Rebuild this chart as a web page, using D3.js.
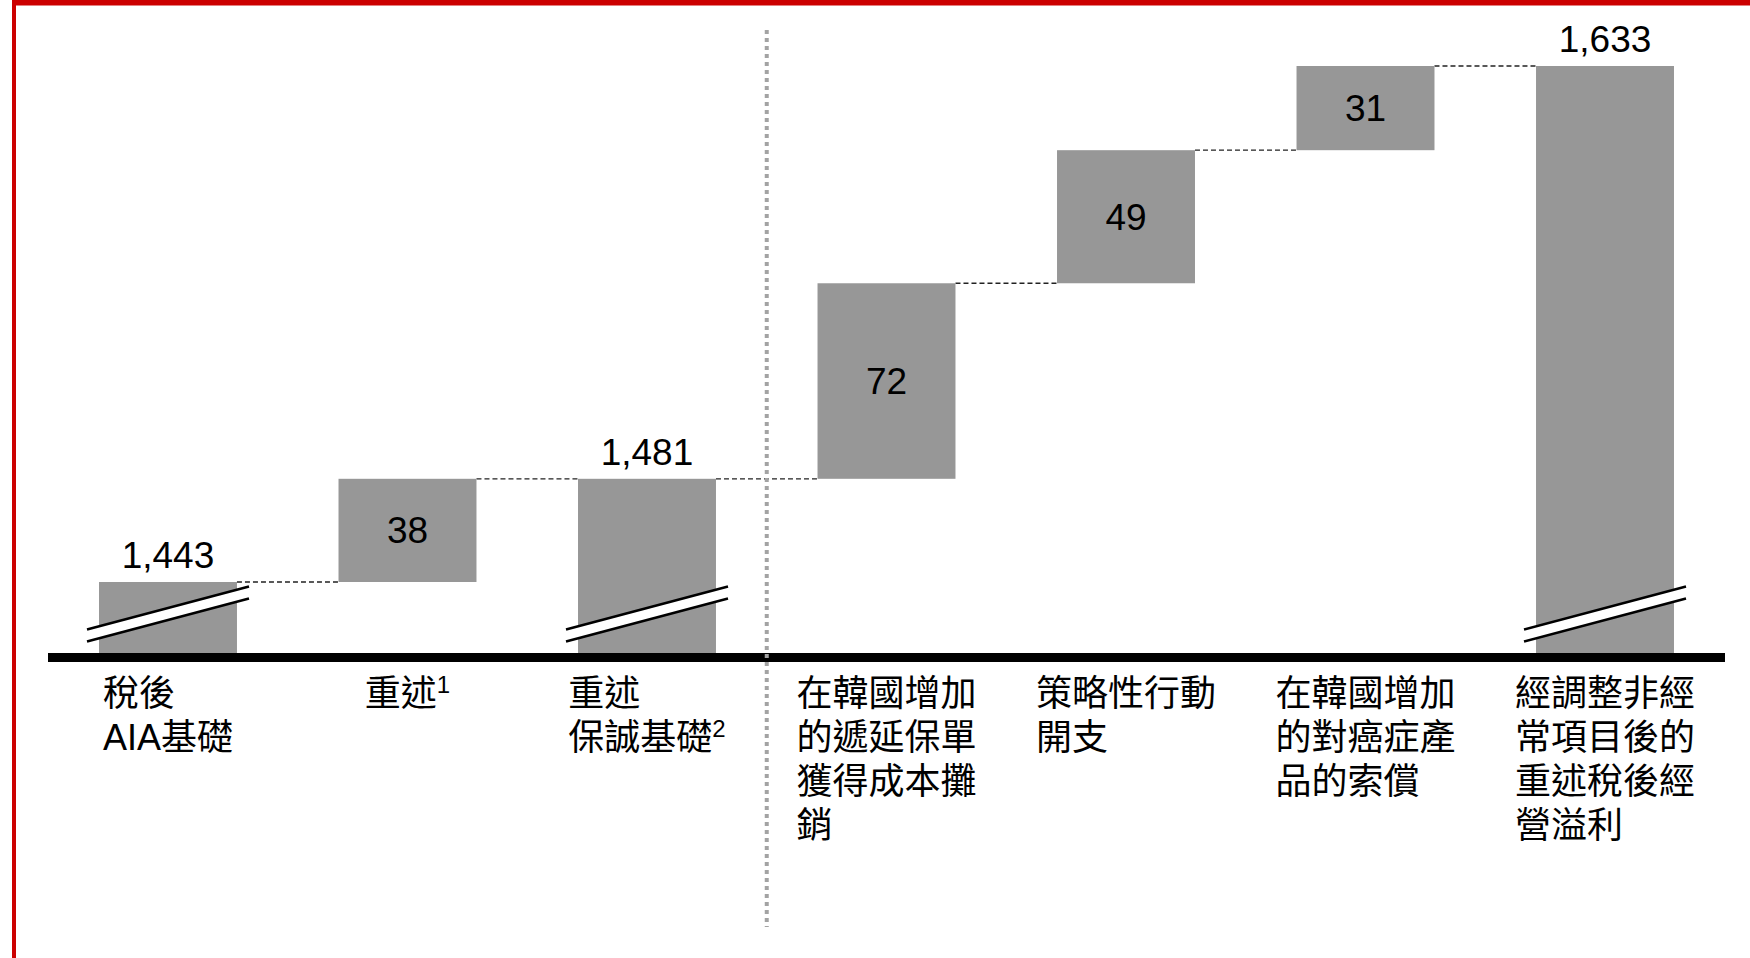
<!DOCTYPE html>
<html>
<head>
<meta charset="utf-8">
<script src="https://cdn.jsdelivr.net/npm/d3@7"></script>
<style>
  html, body { margin: 0; padding: 0; background: #fff; }
  svg { display: block; }
  text { font-family: "Liberation Sans", Arial, "Noto Sans CJK TC", sans-serif; fill: #000; }
</style>
</head>
<body>
<svg id="chart" width="1750" height="958"></svg>
<script>
// Waterfall: after-tax operating profit bridge (US$m)
const categories = ["base", "restate", "restatedBase", "dac", "strategic", "cancer", "final"];
const kinds = ["total", "delta", "total", "delta", "delta", "delta", "total"];
const values = [1443, 38, 1481, 72, 49, 31, 1633];
// Category labels, one entry per line; "^" marks a superscript note
const labelLines = [
  ["稅後", "AIA基礎"],
  ["重述^1"],
  ["重述", "保誠基礎^2"],
  ["在韓國增加", "的遞延保單", "獲得成本攤", "銷"],
  ["策略性行動", "開支"],
  ["在韓國增加", "的對癌症產", "品的索償"],
  ["經調整非經", "常項目後的", "重述稅後經", "營溢利"]
];
const valueLabels = ["1,443", "38", "1,481", "72", "49", "31", "1,633"];

const svg = d3.select("#chart");
const W = 1750, H = 958;
const axisY = 657.5;
const barColor = "#979797";

// Page frame (red top band and left rule)
svg.append("rect").attr("x", 12).attr("y", 0).attr("width", W - 12).attr("height", 5.5).attr("fill", "#cc0000");
svg.append("rect").attr("x", 12).attr("y", 0).attr("width", 4).attr("height", H).attr("fill", "#cc0000");

const x = d3.scaleBand()
  .domain(categories)
  .range([48, 1725])
  .paddingInner(0.424)
  .paddingOuter(0.213);

// Broken value axis: only the top part of the totals is shown
const y = d3.scaleLinear().domain([1443, 1633]).range([582, 66]);

// Build the waterfall segments
let running = 0;
const bars = categories.map((c, i) => {
  let lo, hi;
  if (kinds[i] === "total") { lo = null; hi = values[i]; running = values[i]; }
  else { lo = running; hi = running + values[i]; running = hi; }
  return { cat: c, kind: kinds[i], lo, hi, label: valueLabels[i], lines: labelLines[i] };
});

const bw = x.bandwidth();

// Connectors between consecutive bars
const conn = svg.append("g");
bars.slice(0, -1).forEach((b, i) => {
  const next = bars[i + 1];
  conn.append("line")
    .attr("x1", x(b.cat) + bw).attr("x2", x(next.cat))
    .attr("y1", y(b.hi)).attr("y2", y(b.hi))
    .attr("stroke", "#222").attr("stroke-width", 1.3)
    .attr("stroke-dasharray", "5,3");
});

// Bars
svg.append("g").selectAll("rect")
  .data(bars).join("rect")
  .attr("x", d => x(d.cat))
  .attr("width", bw)
  .attr("y", d => y(d.hi))
  .attr("height", d => (d.kind === "total" ? axisY : y(d.lo)) - y(d.hi))
  .attr("fill", barColor);

// Axis-break marks on the total bars
const brk = svg.append("g");
bars.filter(d => d.kind === "total").forEach(d => {
  const cx = x(d.cat) + bw / 2;
  const x0 = cx - 81, x1 = cx + 81;
  const yl = axisY - 28, yr = axisY - 71, gap = 12;
  brk.append("path")
    .attr("d", `M${x0},${yl}L${x1},${yr}L${x1},${yr + gap}L${x0},${yl + gap}Z`)
    .attr("fill", "#fff");
  [0, gap].forEach(off => {
    brk.append("line")
      .attr("x1", x0).attr("y1", yl + off).attr("x2", x1).attr("y2", yr + off)
      .attr("stroke", "#000").attr("stroke-width", 2.5);
  });
});

// Baseline
svg.append("line")
  .attr("x1", 48).attr("x2", 1725)
  .attr("y1", axisY).attr("y2", axisY)
  .attr("stroke", "#000").attr("stroke-width", 9);

// Separator between restated base and the adjustments
const sepX = (x(categories[2]) + bw + x(categories[3])) / 2;
svg.append("line")
  .attr("x1", sepX).attr("x2", sepX)
  .attr("y1", 30).attr("y2", 927)
  .attr("stroke", "#a3a3a3").attr("stroke-width", 4)
  .attr("stroke-dasharray", "4,4");

// Value labels
svg.append("g").selectAll("text")
  .data(bars).join("text")
  .attr("x", d => x(d.cat) + bw / 2)
  .attr("y", d => d.kind === "total" ? y(d.hi) - 14 : (y(d.hi) + y(d.lo)) / 2)
  .attr("dy", d => d.kind === "total" ? 0 : "0.35em")
  .attr("text-anchor", "middle")
  .attr("font-size", 37)
  .text(d => d.label);

// Category labels: left-aligned block centred under each bar
const lab = svg.append("g");
bars.forEach(d => {
  const g = lab.append("g");
  const t = g.append("text").attr("font-size", 36);
  d.lines.forEach((line, li) => {
    const [main, sup] = line.split("^");
    t.append("tspan").attr("x", 0).attr("y", 706 + li * 44).text(main);
    if (sup) {
      t.append("tspan").attr("font-size", 24).attr("dy", -13).text(sup);
    }
  });
  const w = t.node().getBBox().width;
  g.attr("transform", `translate(${x(d.cat) + bw / 2 - w / 2},0)`);
});
</script>
</body>
</html>
